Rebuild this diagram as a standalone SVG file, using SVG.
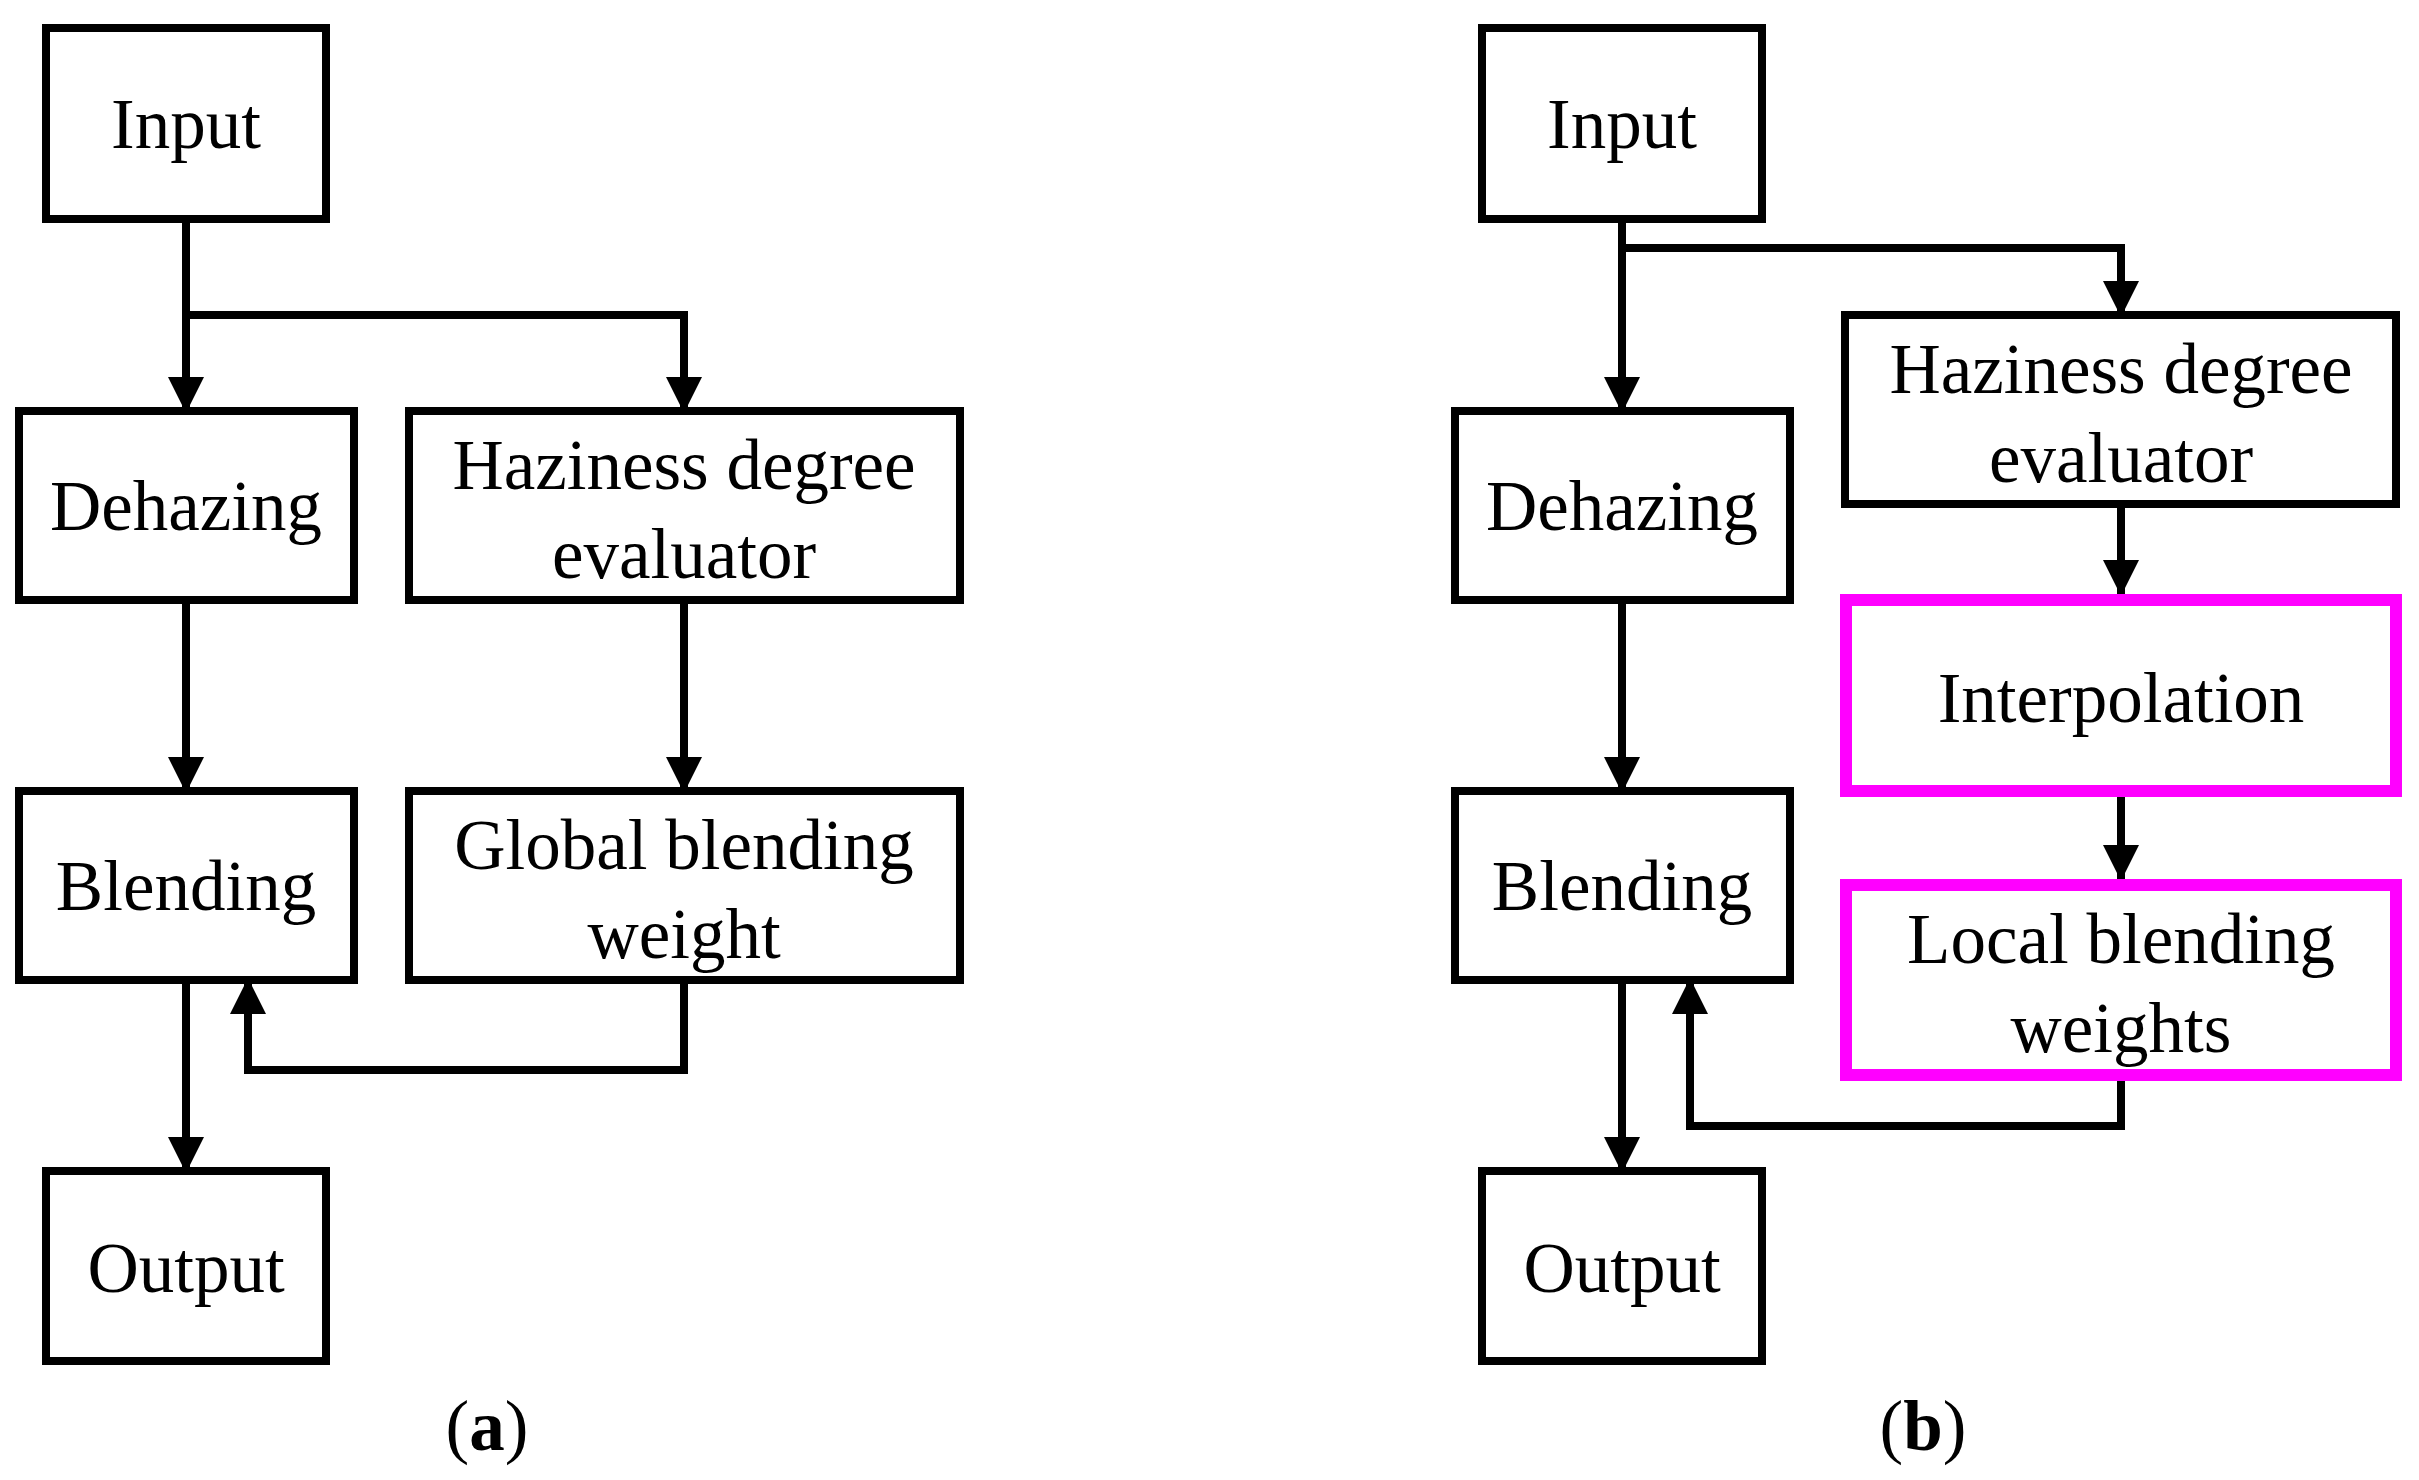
<svg xmlns="http://www.w3.org/2000/svg" width="2419" height="1480" viewBox="0 0 2419 1480">
<style>
.b{fill:#fff;stroke:#000;stroke-width:8}
.m{fill:#fff;stroke:#ff00ff;stroke-width:12}
.t{font-family:"Liberation Serif",serif;font-size:71px;text-anchor:middle;fill:#000}
.c{fill:none;stroke:#000;stroke-width:8}
</style>
<defs><marker id="a" markerUnits="userSpaceOnUse" markerWidth="36" markerHeight="36" refX="18" refY="34" orient="auto-start-reverse" viewBox="0 0 36 36"><path d="M0,0 L36,0 L18,36 Z" transform="rotate(0)" fill="#000"/></marker>
<marker id="d" markerUnits="userSpaceOnUse" markerWidth="36" markerHeight="36" refX="34" refY="18" orient="auto" viewBox="0 0 36 36"><path d="M0,0 L36,18 L0,36 Z" fill="#000"/></marker></defs>
<g id="connectors">
<path class="c" d="M186,219 V411" marker-end="url(#d)"/>
<path class="c" d="M186,315 H684 V411" marker-end="url(#d)"/>
<path class="c" d="M186,600 V791" marker-end="url(#d)"/>
<path class="c" d="M684,600 V791" marker-end="url(#d)"/>
<path class="c" d="M186,980 V1171" marker-end="url(#d)"/>
<path class="c" d="M684,980 V1070 H248 V980" marker-end="url(#d)"/>
<path class="c" d="M1622,219 V411" marker-end="url(#d)"/>
<path class="c" d="M1622,248 H2121 V315" marker-end="url(#d)"/>
<path class="c" d="M1622,600 V791" marker-end="url(#d)"/>
<path class="c" d="M2121,504 V594" marker-end="url(#d)"/>
<path class="c" d="M2121,791 V879" marker-end="url(#d)"/>
<path class="c" d="M1622,980 V1171" marker-end="url(#d)"/>
<path class="c" d="M2121,1081 V1126 H1690 V980" marker-end="url(#d)"/>
</g>
<g id="a-input"><rect class="b" x="46" y="28" width="280" height="191"/><text class="t" x="186" y="148">Input</text></g>
<g id="a-dehazing"><rect class="b" x="19" y="411" width="335" height="189"/><text class="t" x="186" y="530">Dehazing</text></g>
<g id="a-haziness"><rect class="b" x="409" y="411" width="551" height="189"/><text class="t" x="684" y="489">Haziness degree</text><text class="t" x="684" y="578">evaluator</text></g>
<g id="a-blending"><rect class="b" x="19" y="791" width="335" height="189"/><text class="t" x="186" y="910">Blending</text></g>
<g id="a-global"><rect class="b" x="409" y="791" width="551" height="189"/><text class="t" x="684" y="869">Global blending</text><text class="t" x="684" y="958">weight</text></g>
<g id="a-output"><rect class="b" x="46" y="1171" width="280" height="190"/><text class="t" x="186" y="1292">Output</text></g>
<text class="t" x="487" y="1450">(<tspan font-weight="bold">a</tspan>)</text>
<g id="b-input"><rect class="b" x="1482" y="28" width="280" height="191"/><text class="t" x="1622" y="148">Input</text></g>
<g id="b-dehazing"><rect class="b" x="1455" y="411" width="335" height="189"/><text class="t" x="1622" y="530">Dehazing</text></g>
<g id="b-haziness"><rect class="b" x="1845" y="315" width="551" height="189"/><text class="t" x="2121" y="393">Haziness degree</text><text class="t" x="2121" y="482">evaluator</text></g>
<g id="b-interp"><rect class="m" x="1846" y="600" width="550" height="191"/><text class="t" x="2121" y="722">Interpolation</text></g>
<g id="b-blending"><rect class="b" x="1455" y="791" width="335" height="189"/><text class="t" x="1622" y="910">Blending</text></g>
<g id="b-local"><rect class="m" x="1846" y="885" width="550" height="190"/><text class="t" x="2121" y="963">Local blending</text><text class="t" x="2121" y="1052">weights</text></g>
<g id="b-output"><rect class="b" x="1482" y="1171" width="280" height="190"/><text class="t" x="1622" y="1292">Output</text></g>
<text class="t" x="1923" y="1450">(<tspan font-weight="bold">b</tspan>)</text>
</svg>
